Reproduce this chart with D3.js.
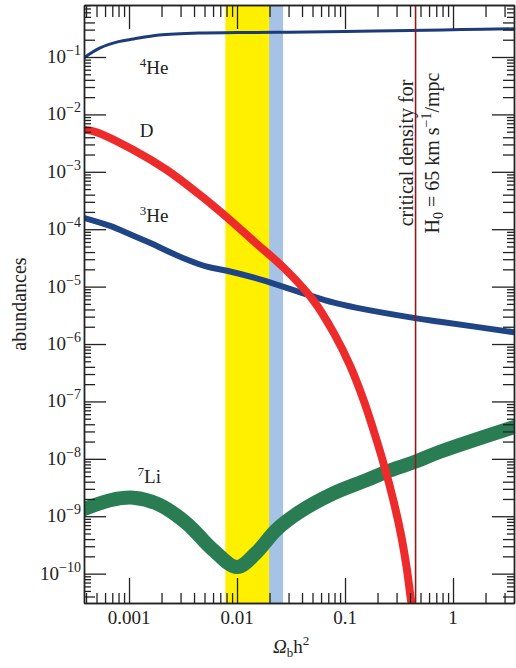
<!DOCTYPE html>
<html>
<head>
<meta charset="utf-8">
<script src="https://cdn.jsdelivr.net/npm/d3@7"></script>
<style>
  body { margin: 0; background: #fff; }
  text { font-family: "Liberation Serif", "DejaVu Serif", serif; fill: #222; }
  .axis path, .axis line { stroke: #222; stroke-width: 1.3; }
</style>
</head>
<body>
<div class="chart"></div>
<script>
// values
var he4Omega = [0.00038, 0.00054, 0.0008, 0.0011, 0.0019, 0.0045, 0.01, 0.03, 0.1, 0.4, 1.2, 3.7];
var he4Abund = [0.096, 0.144, 0.185, 0.206, 0.241, 0.262, 0.266, 0.27, 0.279, 0.29, 0.3, 0.31];

var dOmega = [0.00038, 0.0005, 0.0011, 0.00225, 0.0045, 0.0081, 0.015, 0.0265, 0.0506, 0.0791, 0.1125, 0.1483, 0.1875, 0.2321, 0.28, 0.328, 0.371, 0.408, 0.435];
var dAbund = [5.4e-3, 4.9e-3, 2.4e-3, 1.07e-3, 4.0e-4, 1.6e-4, 5.7e-5, 2.22e-5, 5.85e-6, 1.53e-6, 4.03e-7, 1.06e-7, 2.78e-8, 7.28e-9, 1.91e-9, 5.03e-10, 1.32e-10, 3.47e-11, 1.55e-11];

var he3Omega = [0.00038, 0.000667, 0.00102, 0.00156, 0.00316, 0.00527, 0.00807, 0.0163, 0.0464, 0.0774, 0.126, 0.46, 0.759, 3.7];
var he3Abund = [1.58e-4, 1.14e-4, 8.2e-5, 5.8e-5, 3.15e-5, 2.22e-5, 1.89e-5, 1.34e-5, 7.1e-6, 5.3e-6, 4.3e-6, 2.8e-6, 2.45e-6, 1.6e-6];

var li7Omega = [0.00037, 0.00067, 0.0011, 0.0019, 0.0034, 0.006, 0.01, 0.015, 0.023, 0.0383, 0.078, 0.159, 0.243, 0.445, 0.758, 3.7];
var li7Abund = [1.3e-9, 1.9e-9, 2.1e-9, 1.6e-9, 7.6e-10, 2.6e-10, 1.3e-10, 2.29e-10, 5.75e-10, 1.2e-9, 2.5e-9, 4.27e-9, 5.96e-9, 8.9e-9, 1.33e-8, 3.6e-8];

var yellowBand = [0.0078, 0.0198];
var blueBand = [0.0198, 0.0267];
var criticalOmega = 0.45;

var xTickValues = [0.001, 0.01, 0.1, 1];
var xTickLabels = ["0.001", "0.01", "0.1", "1"];
var yTickExps = [-1, -2, -3, -4, -5, -6, -7, -8, -9, -10];

var margin = {top: 5, right: 2, bottom: 65, left: 84};
var width = 516 - margin.left - margin.right;
var height = 668 - margin.top - margin.bottom;

var x = d3.scaleLog()
    .domain([0.000383, 3.67])
    .range([0, width]);

var y = d3.scaleLog()
    .domain([3.08e-11, 0.805])
    .range([height, 0]);

var svg = d3.select(".chart").append("svg")
    .attr("width", width + margin.left + margin.right)
    .attr("height", height + margin.top + margin.bottom)
  .append("g")
    .attr("transform", "translate(" + margin.left + "," + margin.top + ")");

svg.append("clipPath")
    .attr("id", "plot")
  .append("rect")
    .attr("width", width)
    .attr("height", height);

var plot = svg.append("g").attr("clip-path", "url(#plot)");

// shaded bands
plot.append("rect")
    .attr("x", x(yellowBand[0]))
    .attr("width", x(yellowBand[1]) - x(yellowBand[0]))
    .attr("y", 0)
    .attr("height", height)
    .attr("fill", "#fff000");

plot.append("rect")
    .attr("x", x(blueBand[0]))
    .attr("width", x(blueBand[1]) - x(blueBand[0]))
    .attr("y", 0)
    .attr("height", height)
    .attr("fill", "#a6c3e6");

var line = d3.line()
    .x(function(d) { return x(d[0]); })
    .y(function(d) { return y(d[1]); })
    .curve(d3.curveCatmullRom.alpha(0.5));

function curve(xs, ys, color, w) {
  plot.append("path")
      .datum(d3.zip(xs, ys))
      .attr("d", line)
      .attr("fill", "none")
      .attr("stroke", color)
      .attr("stroke-width", w)
      .attr("stroke-linecap", "round");
}

curve(he4Omega, he4Abund, "#1d3b7a", 3);
curve(he3Omega, he3Abund, "#1f4586", 6);
curve(li7Omega, li7Abund, "#2a7d53", 14);
curve(dOmega, dAbund, "#ee2b2b", 8);

// critical density line
plot.append("line")
    .attr("x1", x(criticalOmega))
    .attr("x2", x(criticalOmega))
    .attr("y1", 0)
    .attr("y2", height)
    .attr("stroke", "#8e1b1b")
    .attr("stroke-width", 1.6);

// ticks, all pointing inward
function mantissa(d) {
  return Math.round(d / Math.pow(10, Math.floor(Math.log10(d) + 1e-9)));
}
var xMinor = x.ticks().filter(function(d) { return mantissa(d) !== 1; });
var yMinor = y.ticks(40).filter(function(d) { return mantissa(d) !== 1; });
var yMajor = yTickExps.map(function(e) { return Math.pow(10, e); });
var yMinorLong = yMinor.filter(function(d) { return mantissa(d) <= 4; });
var yMinorShort = yMinor.filter(function(d) { return mantissa(d) > 4; });

function ticks(axis, values, size, tr) {
  svg.append("g")
      .attr("class", "axis")
      .attr("transform", tr)
      .call(axis.tickValues(values).tickSize(size).tickSizeOuter(0).tickFormat(""));
}

[[d3.axisLeft, "translate(0,0)"], [d3.axisRight, "translate(" + width + ",0)"]].forEach(function(a) {
  ticks(a[0](y), yMajor, -22, a[1]);
  ticks(a[0](y), yMinorLong, -11, a[1]);
  ticks(a[0](y), yMinorShort, -7, a[1]);
});
ticks(d3.axisTop(x), xTickValues, -24, "translate(0,0)");
ticks(d3.axisTop(x), xMinor, -12, "translate(0,0)");
ticks(d3.axisBottom(x), xTickValues, -25, "translate(0," + height + ")");
ticks(d3.axisBottom(x), xMinor, -10, "translate(0," + height + ")");

// tick labels
svg.selectAll(".xlab")
    .data(xTickValues)
  .enter().append("text")
    .attr("class", "xlab")
    .attr("x", function(d) { return x(d); })
    .attr("y", height + 21)
    .attr("text-anchor", "middle")
    .style("font-size", "19px")
    .text(function(d, i) { return xTickLabels[i]; });

var ylab = svg.selectAll(".ylab")
    .data(yTickExps)
  .enter().append("text")
    .attr("class", "ylab")
    .attr("x", -3)
    .attr("y", function(d) { return y(Math.pow(10, d)) + 6; })
    .attr("text-anchor", "end")
    .style("font-size", "19px");
ylab.append("tspan").text("10");
ylab.append("tspan")
    .attr("dy", -8)
    .style("font-size", "14px")
    .text(function(d) { return "\u2212" + Math.abs(d); });

// axis titles
svg.append("text")
    .attr("transform", "translate(-58," + (height / 2) + ") rotate(-90)")
    .attr("text-anchor", "middle")
    .style("font-size", "20px")
    .text("abundances");

var xt = svg.append("text")
    .attr("x", 189)
    .attr("y", height + 50)
    .style("font-size", "19px");
xt.append("tspan").style("font-style", "italic").text("\u03A9");
xt.append("tspan").attr("dy", 4).style("font-size", "13px").text("b");
xt.append("tspan").attr("dy", -4).text("h");
xt.append("tspan").attr("dy", -8).style("font-size", "13px").text("2");

// curve labels
function label(px, py, sup, name) {
  var t = svg.append("text")
      .attr("x", x(px))
      .attr("y", y(py))
      .style("font-size", "19px");
  if (sup) {
    t.append("tspan").attr("dy", -7).style("font-size", "13px").text(sup);
    t.append("tspan").attr("dy", 7).text(name);
  } else {
    t.text(name);
  }
}
label(0.00126, 0.0506, "4", "He");
label(0.00126, 0.00404, null, "D");
label(0.00126, 1.33e-4, "3", "He");
label(0.0012, 3.8e-9, "7", "Li");

// critical density annotation
var cx = x(criticalOmega);
svg.append("text")
    .attr("transform", "translate(" + (cx - 3) + ",148) rotate(-90)")
    .attr("text-anchor", "middle")
    .style("font-size", "20px")
    .text("critical density for");

var h0 = svg.append("text")
    .attr("transform", "translate(" + (cx + 23) + ",148) rotate(-90)")
    .attr("text-anchor", "middle")
    .style("font-size", "20px");
h0.append("tspan").text("H");
h0.append("tspan").attr("dy", 4).style("font-size", "14px").text("0");
h0.append("tspan").attr("dy", -4).text(" = 65 km s");
h0.append("tspan").attr("dy", -8).style("font-size", "14px").text("\u22121");
h0.append("tspan").attr("dy", 8).text("/mpc");
</script>
</body>
</html>
